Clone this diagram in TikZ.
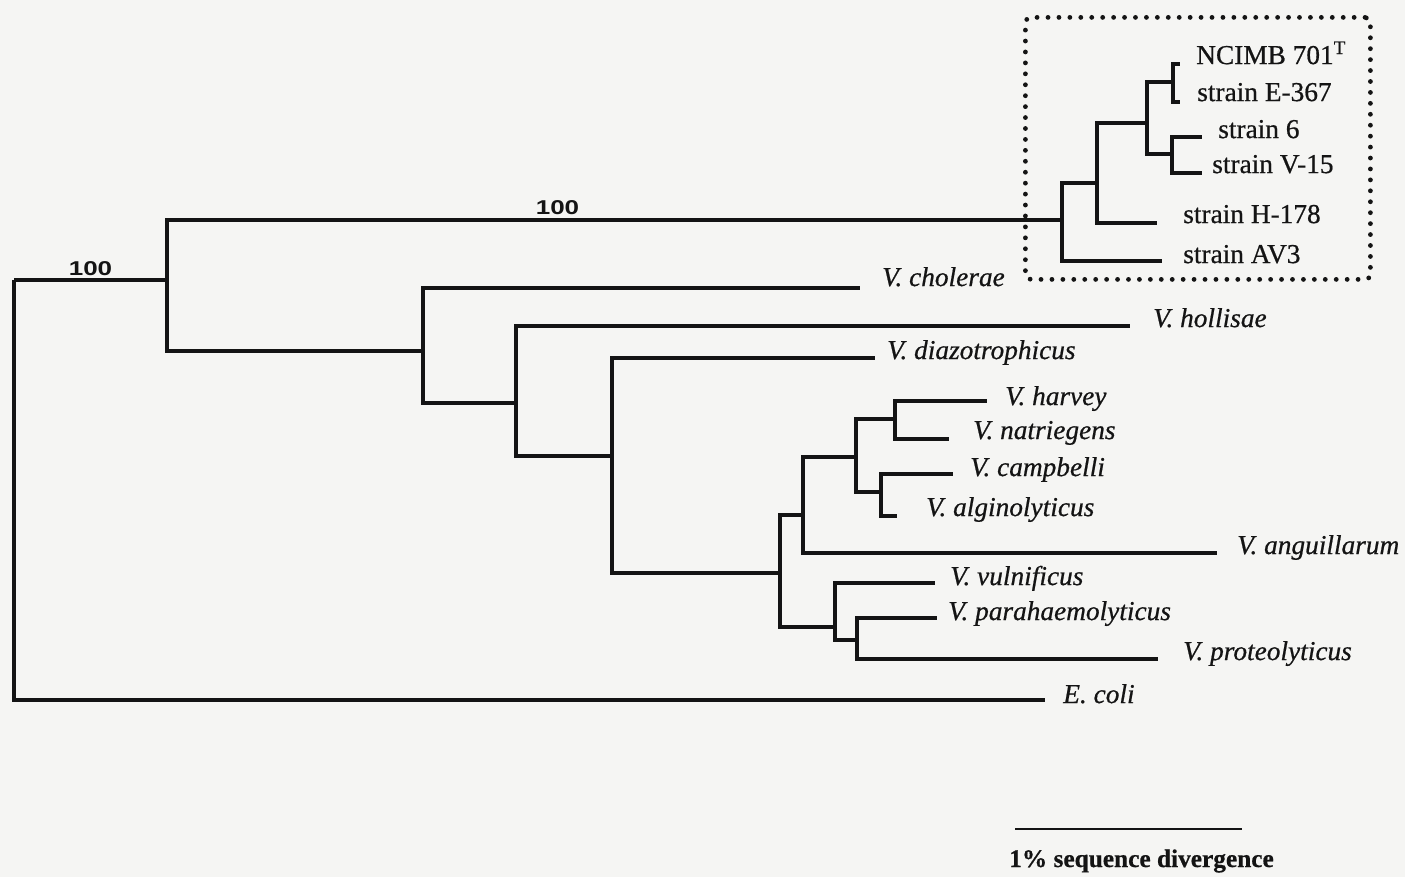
\documentclass[tikz,border=0pt]{standalone}
\usepackage{fontspec}
\setmainfont{Liberation Serif}[FakeBold=0.6]
\newfontfamily\numfont{Liberation Sans}
\definecolor{bgcol}{RGB}{245,245,243}
\definecolor{ink}{RGB}{20,20,20}
\begin{document}
\begin{tikzpicture}[x=0.75pt,y=-0.75pt,
  br/.style={line width=2.9pt, draw=ink},
  lab/.style={anchor=west, inner sep=0pt, text=ink, font=\fontsize{20.5}{24}\selectfont, text height=0.68em, text depth=0.22em},
  sp/.style={lab, font=\fontsize{20.5}{24}\selectfont\itshape},
  boot/.style={inner sep=0pt, text=ink, font=\fontsize{15}{18}\selectfont\numfont\bfseries},
  dotbox/.style={draw=ink, line width=3.6pt, dash pattern=on 0pt off 8.2pt, line cap=round, rounded corners=4pt}]
\fill[bgcol] (0,0) rectangle (1405,877);
\useasboundingbox (0,0) rectangle (1405,877);

% internal nodes (x of vertical, y where parent enters)
\coordinate (root) at (14,280);
\coordinate (A) at (167,280);
\coordinate (B1) at (1062,220);
\coordinate (B2) at (1097,183);
\coordinate (B3) at (1147,123);
\coordinate (B4) at (1173,82);
\coordinate (B5) at (1172,154);
\coordinate (C) at (423,351);
\coordinate (D) at (516,403);
\coordinate (E) at (612,456);
\coordinate (F) at (780,573);
\coordinate (G) at (803,515);
\coordinate (H) at (856,457);
\coordinate (I) at (895,419);
\coordinate (J) at (881,492);
\coordinate (K) at (835,627);
\coordinate (L) at (857,640);

% leaf ends
\coordinate (ncimb) at (1180,64);
\coordinate (e367) at (1180,102);
\coordinate (s6) at (1202,137);
\coordinate (v15) at (1202,173);
\coordinate (h178) at (1157,223);
\coordinate (av3) at (1162,261);
\coordinate (chol) at (860,288);
\coordinate (holl) at (1130,326);
\coordinate (diaz) at (875,358);
\coordinate (harv) at (987,401);
\coordinate (natr) at (949,439);
\coordinate (camp) at (953,474);
\coordinate (algi) at (897,516);
\coordinate (angu) at (1217,553);
\coordinate (vuln) at (935,583);
\coordinate (para) at (937,618);
\coordinate (prot) at (1158,659);
\coordinate (ecol) at (1045,700);

% branches
\draw[br] (root) -- (A);
\draw[br] (root) |- (ecol);
\draw[br] (A) |- (B1);
\draw[br] (A) |- (C);
\draw[br] (B1) |- (B2);
\draw[br] (B1) |- (av3);
\draw[br] (B2) |- (B3);
\draw[br] (B2) |- (h178);
\draw[br] (B3) |- (B4);
\draw[br] (B3) |- (B5);
\draw[br] (B4) |- (ncimb);
\draw[br] (B4) |- (e367);
\draw[br] (B5) |- (s6);
\draw[br] (B5) |- (v15);
\draw[br] (C) |- (chol);
\draw[br] (C) |- (D);
\draw[br] (D) |- (holl);
\draw[br] (D) |- (E);
\draw[br] (E) |- (diaz);
\draw[br] (E) |- (F);
\draw[br] (F) |- (G);
\draw[br] (F) |- (K);
\draw[br] (G) |- (H);
\draw[br] (G) |- (angu);
\draw[br] (H) |- (I);
\draw[br] (H) |- (J);
\draw[br] (I) |- (harv);
\draw[br] (I) |- (natr);
\draw[br] (J) |- (camp);
\draw[br] (J) |- (algi);
\draw[br] (K) |- (vuln);
\draw[br] (K) |- (L);
\draw[br] (L) |- (para);
\draw[br] (L) |- (prot);

% bootstrap values
\node[boot] (bs1) at (90.5,269) {\scalebox{1.3}[1]{100}};
\node[boot] (bs2) at (557.5,208) {\scalebox{1.3}[1]{100}};

% strain labels
\node[lab] (lncimb) at (1196,61) {NCIMB 701\textsuperscript{T}};
\node[lab] (le367) at (1197,98) {strain E-367};
\node[lab] (ls6) at (1218,135) {strain 6};
\node[lab] (lv15) at (1212,170) {strain V-15};
\node[lab] (lh178) at (1183,220) {strain H-178};
\node[lab] (lav3) at (1183,260) {strain AV3};

% species labels
\node[sp] (lchol) at (882,283) {V. cholerae};
\node[sp] (lholl) at (1153,324) {V. hollisae};
\node[sp] (ldiaz) at (887,356) {V. diazotrophicus};
\node[sp] (lharv) at (1005,402) {V. harvey};
\node[sp] (lnatr) at (973,436) {V. natriegens};
\node[sp] (lcamp) at (970,473) {V. campbelli};
\node[sp] (lalgi) at (926,513) {V. alginolyticus};
\node[sp] (langu) at (1237,551) {V. anguillarum};
\node[sp] (lvuln) at (950,582) {V. vulnificus};
\node[sp] (lpara) at (948,617) {V. parahaemolyticus};
\node[sp] (lprot) at (1183,657) {V. proteolyticus};
\node[sp] (lecol) at (1063,700) {E. coli};

% dotted box around the strain cluster
\node[dotbox, inner sep=0pt, minimum width=345*0.75pt, minimum height=262*0.75pt, anchor=north west] (box) at (1023,15) {};

% scale bar
\coordinate (sbL) at (1015,829);
\coordinate (sbR) at (1242,829);
\draw[line width=2.2pt, draw=ink] (sbL) -- (sbR);
\node[inner sep=0pt, text=ink, font=\fontsize{19}{22}\selectfont\bfseries] (sbtext) at (1141.5,861) {1\% sequence divergence};
\end{tikzpicture}
\end{document}
